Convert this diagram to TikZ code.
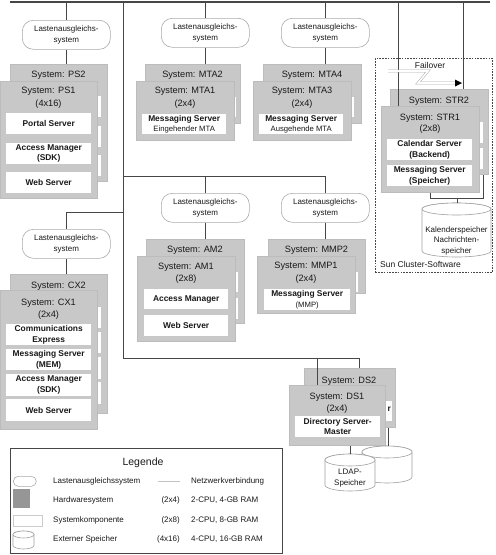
\documentclass[tikz,border=0pt]{standalone}
\usepackage{fontspec}
\setmainfont{Liberation Sans}
\usetikzlibrary{arrows.meta}
\definecolor{sysgray}{RGB}{200,200,200}
\definecolor{sysedge}{RGB}{188,188,188}
\definecolor{linegray}{RGB}{70,70,70}
\definecolor{lbedge}{RGB}{170,170,170}
\definecolor{drumedge}{RGB}{160,160,160}
\definecolor{txt}{RGB}{25,25,25}
\definecolor{leggray}{RGB}{150,150,150}
\newcommand{\subt}{\fontsize{7.7}{10}\selectfont\mdseries}
\newcommand{\drum}[5]{%
  \pgfmathsetmacro\drumcx{(#1+#2)/2}%
  \pgfmathsetmacro\drumrx{(#2-#1)/2}%
  \filldraw[drumline] (#1,#3+#5) -- (#1,#4-#5) arc[start angle=180,end angle=0,x radius=\drumrx,y radius=#5] -- (#2,#3+#5) arc[start angle=0,end angle=-180,x radius=\drumrx,y radius=#5] -- cycle;
  \draw[drumline] (\drumcx,#3+#5) ellipse[x radius=\drumrx,y radius=#5];
}
\begin{document}
\begin{tikzpicture}[x=1pt,y=-1pt,
  sysbox/.style={fill=sysgray,draw=sysedge,line width=0.5pt,anchor=north west,inner sep=0pt},
  compbox/.style={fill=white,anchor=north west,inner sep=0pt,align=center,text=txt,font=\fontsize{8.4}{10.5}\selectfont\bfseries},
  lbbox/.style={draw=lbedge,fill=white,rounded corners=11pt,line width=0.6pt,anchor=north west,inner sep=0pt,align=center,text=txt,font=\fontsize{8}{11}\selectfont,minimum width=88pt,minimum height=29pt},
  syslabel/.style={inner sep=0pt,text=txt,font=\fontsize{9.2}{11}\selectfont},
  netline/.style={draw=linegray,line width=0.8pt},
  legtext/.style={anchor=west,inner sep=0pt,text=txt,font=\fontsize{8}{10}\selectfont},
  legnum/.style={anchor=east,inner sep=0pt,text=txt,font=\fontsize{8}{10}\selectfont},
  drumline/.style={draw=drumedge,fill=white,line width=0.6pt},
  drumtext/.style={inner sep=0pt,align=center,text=txt,font=\fontsize{8}{10.5}\selectfont}
]
\useasboundingbox (0,0) rectangle (496,555);

% ---------- PS ----------
\node[lbbox] (lb1) at (22,20) {Lastenausgleichs-\\system};
\node[sysbox,minimum width=97pt,minimum height=117pt] (ps2) at (10,64) {};
\node[syslabel] (ps2l) at (58.5,75) {System: PS2};
\node[compbox,minimum width=85pt,minimum height=21pt] (ps2a) at (16,96) {};
\node[compbox,minimum width=85pt,minimum height=21pt] (ps2b) at (16,126) {};
\node[compbox,minimum width=85pt,minimum height=21pt] (ps2c) at (16,155) {};
\node[sysbox,minimum width=97pt,minimum height=117pt] (ps1) at (0,81) {};
\node[syslabel] (ps1l) at (48.5,91) {System: PS1};
\node[syslabel] (ps1n) at (48.5,104) {(4x16)};
\node[compbox,minimum width=85pt,minimum height=21pt] (ps1a) at (6,113) {Portal Server};
\node[compbox,minimum width=85pt,minimum height=21pt] (ps1b) at (6,143) {Access Manager\\(SDK)};
\node[compbox,minimum width=85pt,minimum height=21pt] (ps1c) at (6,172) {Web Server};

% ---------- MTA1/2 ----------
\node[lbbox] (lb2) at (161,18) {Lastenausgleichs-\\system};
\node[sysbox,minimum width=95pt,minimum height=59pt] (mta2) at (145,64) {};
\node[syslabel] (mta2l) at (192.5,75) {System: MTA2};
\node[compbox,minimum width=85pt,minimum height=20pt] (mta2a) at (151,97) {};
\node[sysbox,minimum width=98pt,minimum height=59pt] (mta1) at (136,81) {};
\node[syslabel] (mta1l) at (185,91) {System: MTA1};
\node[syslabel] (mta1n) at (185,104) {(2x4)};
\node[compbox,minimum width=84pt,minimum height=20pt] (mta1a) at (142,114) {Messaging Server\\{\subt Eingehender MTA}};

% ---------- MTA3/4 ----------
\node[lbbox] (lb3) at (281,18) {Lastenausgleichs-\\system};
\node[sysbox,minimum width=98pt,minimum height=59pt] (mta4) at (263,64) {};
\node[syslabel] (mta4l) at (312,75) {System: MTA4};
\node[compbox,minimum width=86pt,minimum height=20pt] (mta4a) at (268,97) {};
\node[sysbox,minimum width=98pt,minimum height=59pt] (mta3) at (253,81) {};
\node[syslabel] (mta3l) at (302,91) {System: MTA3};
\node[syslabel] (mta3n) at (302,104) {(2x4)};
\node[compbox,minimum width=84pt,minimum height=20pt] (mta3a) at (259,114) {Messaging Server\\{\subt Ausgehende MTA}};

% ---------- STR cluster ----------
\node[draw=linegray,dashed,dash pattern=on 1.6pt off 1.2pt,line width=0.6pt,anchor=north west,inner sep=0pt,minimum width=117pt,minimum height=214pt] (cluster) at (375,58) {};
\node[legtext,font=\fontsize{8.5}{10}\selectfont] (clusterl) at (380,264) {Sun Cluster-Software};
\node[inner sep=0pt,text=txt,font=\fontsize{8.5}{10}\selectfont] (failover) at (430,65) {Failover};
\node[sysbox,minimum width=98pt,minimum height=85pt] (str2) at (390,89) {};
\node[syslabel] (str2l) at (439,101) {System: STR2};
\node[compbox,minimum width=87pt,minimum height=21pt] (str2a) at (396,122) {};
\node[compbox,minimum width=87pt,minimum height=21pt] (str2b) at (396,148) {};
\node[sysbox,minimum width=98pt,minimum height=86pt] (str1) at (381,106) {};
\node[syslabel] (str1l) at (430,118) {System: STR1};
\node[syslabel] (str1n) at (430,129) {(2x8)};
\node[compbox,minimum width=85pt,minimum height=21pt] (str1a) at (387,139) {Calendar Server\\(Backend)};
\node[compbox,minimum width=85pt,minimum height=21pt] (str1b) at (387,165) {Messaging Server\\(Speicher)};
\drum{422}{491}{203}{257}{6}
\node[drumtext] (kal) at (456.5,240.5) {Kalenderspeicher\\Nachrichten-\\speicher};

% ---------- AM ----------
\node[lbbox] (lb4) at (161,193) {Lastenausgleichs-\\system};
\node[sysbox,minimum width=98pt,minimum height=84pt] (am2) at (146,239) {};
\node[syslabel] (am2l) at (195,250) {System: AM2};
\node[compbox,minimum width=85pt,minimum height=20pt] (am2a) at (153,272) {};
\node[compbox,minimum width=85pt,minimum height=21pt] (am2b) at (153,298) {};
\node[sysbox,minimum width=98pt,minimum height=85pt] (am1) at (137,256) {};
\node[syslabel] (am1l) at (186,267) {System: AM1};
\node[syslabel] (am1n) at (186,279) {(2x8)};
\node[compbox,minimum width=84pt,minimum height=20pt] (am1a) at (144,289) {Access Manager};
\node[compbox,minimum width=84pt,minimum height=21pt] (am1b) at (144,315) {Web Server};

% ---------- MMP ----------
\node[lbbox] (lb5) at (281,193) {Lastenausgleichs-\\system};
\node[sysbox,minimum width=97pt,minimum height=54pt] (mmp2) at (268,239) {};
\node[syslabel] (mmp2l) at (316.5,250) {System: MMP2};
\node[compbox,minimum width=85pt,minimum height=20pt] (mmp2a) at (273,272) {};
\node[sysbox,minimum width=98pt,minimum height=57pt] (mmp1) at (257,256) {};
\node[syslabel] (mmp1l) at (306,266) {System: MMP1};
\node[syslabel] (mmp1n) at (306,279) {(2x4)};
\node[compbox,minimum width=86pt,minimum height=21pt] (mmp1a) at (264,289) {Messaging Server\\{\subt (MMP)}};

% ---------- CX ----------
\node[lbbox] (lb6) at (22,229) {Lastenausgleichs-\\system};
\node[sysbox,minimum width=97pt,minimum height=139pt] (cx2) at (10,274) {};
\node[syslabel] (cx2l) at (58.5,286) {System: CX2};
\node[compbox,minimum width=85pt,minimum height=21pt] (cx2a) at (16,307) {};
\node[compbox,minimum width=85pt,minimum height=21pt] (cx2b) at (16,332) {};
\node[compbox,minimum width=85pt,minimum height=22pt] (cx2c) at (16,357) {};
\node[compbox,minimum width=85pt,minimum height=22pt] (cx2d) at (16,382) {};
\node[sysbox,minimum width=97pt,minimum height=139pt] (cx1) at (0,290) {};
\node[syslabel] (cx1l) at (48.5,303) {System: CX1};
\node[syslabel] (cx1n) at (48.5,315) {(2x4)};
\node[compbox,minimum width=85pt,minimum height=21pt] (cx1a) at (6,324) {Communications\\Express};
\node[compbox,minimum width=85pt,minimum height=21pt] (cx1b) at (6,349) {Messaging Server\\(MEM)};
\node[compbox,minimum width=85pt,minimum height=22pt] (cx1c) at (6,374) {Access Manager\\(SDK)};
\node[compbox,minimum width=85pt,minimum height=22pt] (cx1d) at (6,399) {Web Server};

% ---------- DS ----------
\node[sysbox,minimum width=91pt,minimum height=59pt] (ds2) at (304,368) {};
\node[syslabel] (ds2l) at (349,381) {System: DS2};
\node[compbox,minimum width=82pt,minimum height=20pt] (ds2a) at (310,401) {};
\node[compbox,anchor=east,fill=none] (ds2r) at (391,409) {r};
\node[sysbox,minimum width=96pt,minimum height=60pt] (ds1) at (289,385) {};
\node[syslabel] (ds1l) at (337,397) {System: DS1};
\node[syslabel] (ds1n) at (337,409) {(2x4)};
\node[compbox,minimum width=85pt,minimum height=21pt] (ds1a) at (295,416) {Directory Server-\\Master};
\drum{362}{412}{446}{483}{6}
\drum{325}{375}{454}{491}{6}
\node[drumtext] (ldap) at (350,478) {LDAP-\\Speicher};

% ---------- connectors ----------
\coordinate (barL) at (10,2);
\coordinate (barR) at (490,2);
\draw[netline,line width=1.6pt] (barL) -- (barR);
\draw[netline] (lb1.north |- barL) -- (lb1.north);
\draw[netline] (lb1.south) -- (lb1.south |- ps2.north);
\draw[netline] (lb2.north |- barL) -- (lb2.north);
\draw[netline] (lb2.south) -- (lb2.south |- mta2.north);
\draw[netline] (lb3.north |- barL) -- (lb3.north);
\draw[netline] (lb3.south) -- (lb3.south |- mta4.north);
\coordinate (s1) at (398,2);
\coordinate (s2) at (463,2);
\draw[netline] (s1) -- (s1 |- str1.north);
\draw[netline] (s2) -- (s2 |- str2.north);
\coordinate (t0) at (123,2);
\coordinate (tm) at (123,176);
\coordinate (tc) at (123,212);
\coordinate (td) at (123,358);
\draw[netline] (t0) -- (td);
\draw[netline] (tm) -- (tm -| lb5.north) -- (lb5.north);
\draw[netline] (tm -| lb4.north) -- (lb4.north);
\draw[netline] (lb4.south) -- (lb4.south |- am2.north);
\draw[netline] (lb5.south) -- (lb5.south |- mmp2.north);
\draw[netline] (tc) -- (tc -| lb6.north) -- (lb6.north);
\draw[netline] (lb6.south) -- (lb6.south |- cx2.north);
\coordinate (dA) at (317,358);
\coordinate (dB) at (359,358);
\draw[netline] (td) -- (dB) -- (dB |- ds2.north);
\draw[netline] (dA) -- (dA |- ds1.north);
\coordinate (l1) at (350,454);
\coordinate (l2) at (388,446);
\draw[netline] (l1 |- ds1.south) -- (l1);
\draw[netline] (l2 |- ds2.south) -- (l2);
\coordinate (sb1) at (430,198);
\coordinate (sb2) at (483,198);
\coordinate (kaltop) at (457,203);
\draw[netline] (sb1 |- str1.south) -- (sb1) -- (sb2) -- (sb2 |- str2.south);
\draw[netline] (kaltop |- sb1) -- (kaltop);
% failover arrow
\coordinate (fo1) at (388,71);
\coordinate (fo2) at (428,71);
\coordinate (fo3) at (418,83);
\coordinate (fo4) at (455,83);
\draw[draw=lbedge,double=white,double distance=1.6pt,line width=0.5pt] (fo1) -- (fo2) -- (fo3) -- (fo4);
\fill[black] (455,79.5) -- (462,83) -- (455,86.5) -- cycle;

% ---------- legend ----------
\node[draw=linegray,line width=0.7pt,anchor=north west,inner sep=0pt,minimum width=272pt,minimum height=105pt] (legend) at (10,448) {};
\node[inner sep=0pt,text=txt,font=\fontsize{10.5}{12}\selectfont] (legtitle) at (143,463) {Legende};
\node[lbbox,minimum width=23pt,minimum height=10pt,rounded corners=5pt] (legLB) at (13,476) {};
\node[fill=leggray,anchor=north west,inner sep=0pt,minimum width=17pt,minimum height=19pt] (legHW) at (13,489) {};
\node[draw=lbedge!60,fill=white,anchor=north west,inner sep=0pt,minimum width=29pt,minimum height=11pt] (legSC) at (13,515) {};
\drum{13}{34}{531}{549}{3.5}
\node[legtext] (lt1) at (53,481) {Lastenausgleichssystem};
\node[legtext] (lt2) at (53,500) {Hardwaresystem};
\node[legtext] (lt3) at (53,520) {Systemkomponente};
\node[legtext] (lt4) at (53,539) {Externer Speicher};
\coordinate (netA) at (158,481);
\coordinate (netB) at (180,481);
\draw[draw=lbedge!70,line width=0.5pt] (netA) -- (netB);
\node[legnum] (ln2) at (180,500) {(2x4)};
\node[legnum] (ln3) at (180,520) {(2x8)};
\node[legnum] (ln4) at (180,539) {(4x16)};
\node[legtext] (lr1) at (191,481) {Netzwerkverbindung};
\node[legtext] (lr2) at (191,500) {2-CPU, 4-GB RAM};
\node[legtext] (lr3) at (191,520) {2-CPU, 8-GB RAM};
\node[legtext] (lr4) at (191,539) {4-CPU, 16-GB RAM};
\end{tikzpicture}
\end{document}
